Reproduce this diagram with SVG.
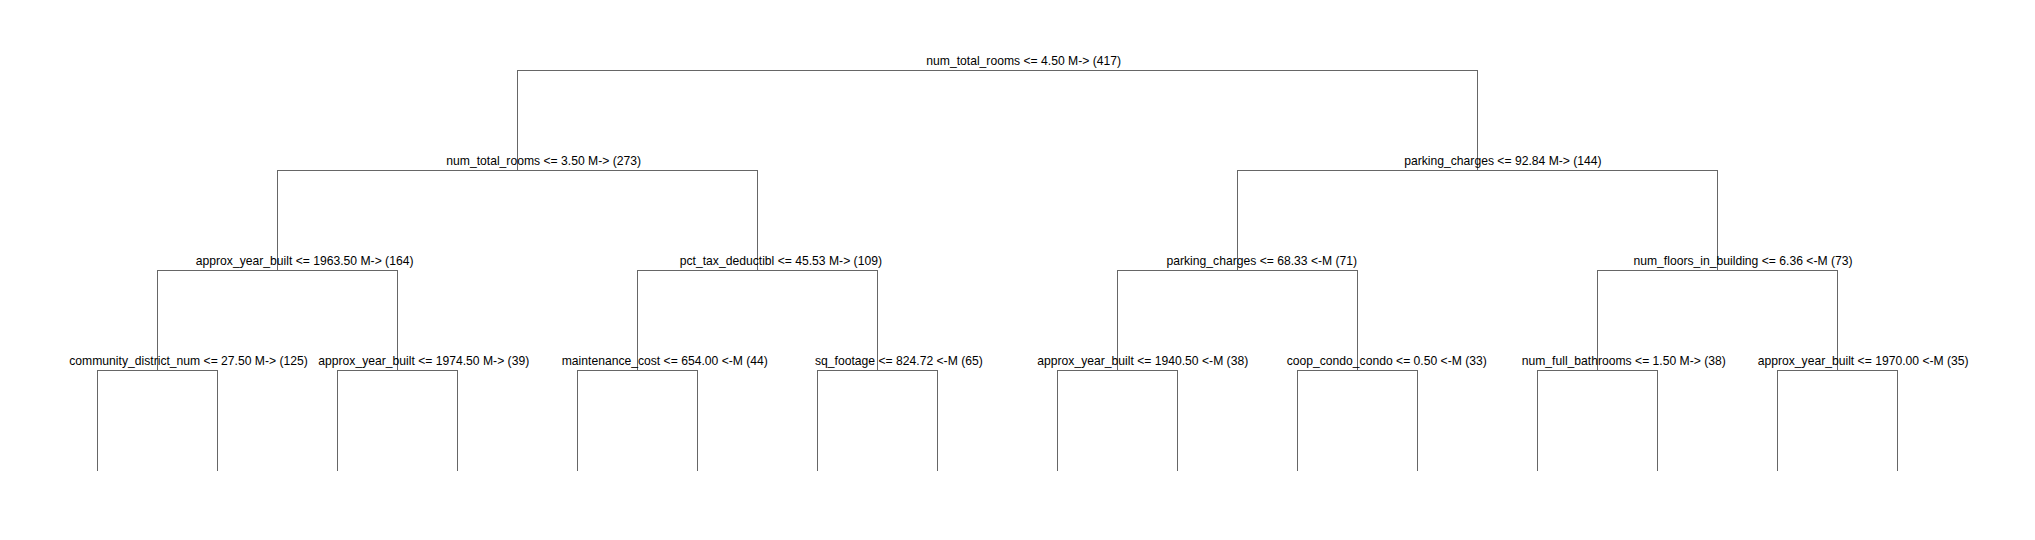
<svg xmlns="http://www.w3.org/2000/svg" width="2035" height="540" viewBox="0 0 2035 540">
<style>
.bg{fill:#ffffff}
.edge{fill:none;stroke:#666666;stroke-width:1;shape-rendering:crispEdges}
.lbl{font-family:"Liberation Sans",Arial,Helvetica,sans-serif;font-size:12.15px;fill:#000000}
</style>
<rect class="bg" x="0" y="0" width="2035" height="540"/>
<g id="connectors">
<path class="edge" d="M517.5,170.5V70.5H1477.5V170.5"/>
<path class="edge" d="M277.5,270.5V170.5H757.5V270.5"/>
<path class="edge" d="M1237.5,270.5V170.5H1717.5V270.5"/>
<path class="edge" d="M157.5,370.5V270.5H397.5V370.5"/>
<path class="edge" d="M637.5,370.5V270.5H877.5V370.5"/>
<path class="edge" d="M1117.5,370.5V270.5H1357.5V370.5"/>
<path class="edge" d="M1597.5,370.5V270.5H1837.5V370.5"/>
<path class="edge" d="M97.5,470.5V370.5H217.5V470.5"/>
<path class="edge" d="M337.5,470.5V370.5H457.5V470.5"/>
<path class="edge" d="M577.5,470.5V370.5H697.5V470.5"/>
<path class="edge" d="M817.5,470.5V370.5H937.5V470.5"/>
<path class="edge" d="M1057.5,470.5V370.5H1177.5V470.5"/>
<path class="edge" d="M1297.5,470.5V370.5H1417.5V470.5"/>
<path class="edge" d="M1537.5,470.5V370.5H1657.5V470.5"/>
<path class="edge" d="M1777.5,470.5V370.5H1897.5V470.5"/>
</g>
<g id="node-root"><text class="lbl" x="926.3" y="65">num_total_rooms &lt;= 4.50 M-&gt; (417)</text></g>
<g id="node-L"><text class="lbl" x="446.3" y="165">num_total_rooms &lt;= 3.50 M-&gt; (273)</text></g>
<g id="node-R"><text class="lbl" x="1404.2" y="165">parking_charges &lt;= 92.84 M-&gt; (144)</text></g>
<g id="node-LL"><text class="lbl" x="195.8" y="265">approx_year_built &lt;= 1963.50 M-&gt; (164)</text></g>
<g id="node-LR"><text class="lbl" x="679.8" y="265">pct_tax_deductibl &lt;= 45.53 M-&gt; (109)</text></g>
<g id="node-RL"><text class="lbl" x="1166.5" y="265">parking_charges &lt;= 68.33 &lt;-M (71)</text></g>
<g id="node-RR"><text class="lbl" x="1633.5" y="265">num_floors_in_building &lt;= 6.36 &lt;-M (73)</text></g>
<g id="node-LLL"><text class="lbl" x="69.3" y="365">community_district_num &lt;= 27.50 M-&gt; (125)</text></g>
<g id="node-LLR"><text class="lbl" x="318.3" y="365">approx_year_built &lt;= 1974.50 M-&gt; (39)</text></g>
<g id="node-LRL"><text class="lbl" x="561.7" y="365">maintenance_cost &lt;= 654.00 &lt;-M (44)</text></g>
<g id="node-LRR"><text class="lbl" x="815" y="365">sq_footage &lt;= 824.72 &lt;-M (65)</text></g>
<g id="node-RLL"><text class="lbl" x="1037.3" y="365">approx_year_built &lt;= 1940.50 &lt;-M (38)</text></g>
<g id="node-RLR"><text class="lbl" x="1286.7" y="365">coop_condo_condo &lt;= 0.50 &lt;-M (33)</text></g>
<g id="node-RRL"><text class="lbl" x="1521.7" y="365">num_full_bathrooms &lt;= 1.50 M-&gt; (38)</text></g>
<g id="node-RRR"><text class="lbl" x="1757.7" y="365">approx_year_built &lt;= 1970.00 &lt;-M (35)</text></g>
</svg>
